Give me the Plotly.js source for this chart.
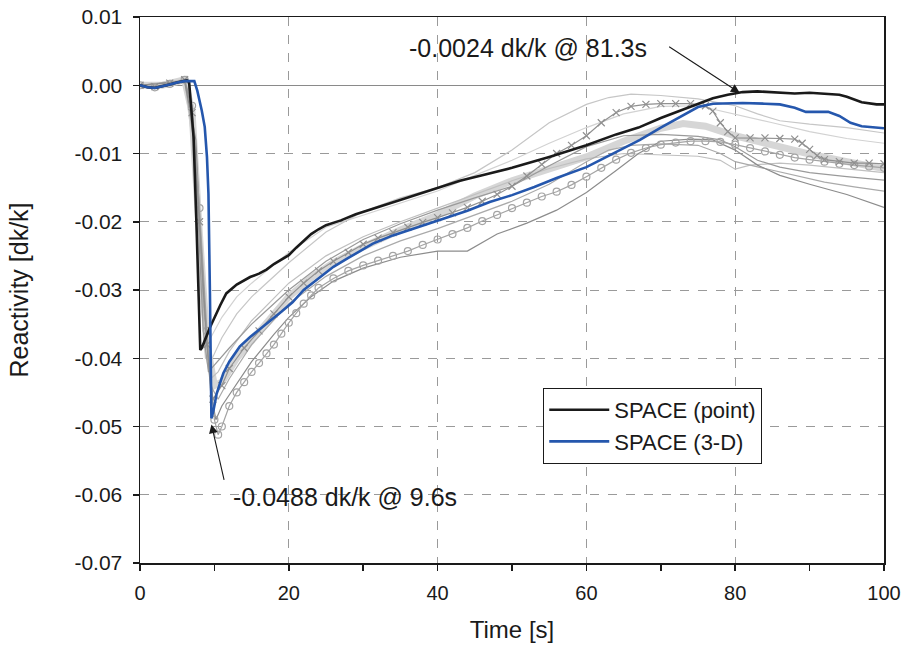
<!DOCTYPE html>
<html>
<head>
<meta charset="utf-8">
<script src="https://cdn.plot.ly/plotly-3.0.1.min.js"></script>
<style>html,body{margin:0;padding:0;background:#fff;}#chart{width:908px;height:655px;}</style>
</head>
<body>
<div id="chart"></div>
<script>
// ---- Data ----
const pointT = [0,1,2,3,4,5,6,6.3,6.6,7.2,7.6,8.1,8.3,9.4,10.8,11.6,13,14.8,16,17,18,19,20,21,22,23,24,25,27,29,31,33,35,37,40,43,46,50,55,60,64,67,70,73,75,77,79,81,83,85,87,88,90,91,93,94,95,97,99,100];
const pointY = [0,-0.0003,-0.0004,-0.0002,0.0001,0.0004,0.0006,0.0007,0.0005,-0.0076,-0.0207,-0.0388,-0.0385,-0.0355,-0.0322,-0.0305,-0.0292,-0.0281,-0.0276,-0.0270,-0.0262,-0.0255,-0.0249,-0.0238,-0.0228,-0.0218,-0.0211,-0.0205,-0.0198,-0.0189,-0.0182,-0.0175,-0.0168,-0.0160,-0.0150,-0.0140,-0.0132,-0.0121,-0.0105,-0.0088,-0.0072,-0.0062,-0.0048,-0.0036,-0.0028,-0.0019,-0.0014,-0.0010,-0.0009,-0.0010,-0.0012,-0.0012,-0.0011,-0.0012,-0.0014,-0.0014,-0.0017,-0.0025,-0.0028,-0.0028];

const threeDT = [0,1,2,3,4,5,6,7.3,7.7,8.3,8.7,9.0,9.2,9.4,9.5,9.6,9.9,10.3,10.8,11.2,12,12.5,13.4,14.8,16,17.5,19,20.5,22,24.2,26,28,30,31.3,34,37,40.3,44,47,50,53,56,60,63,65,67.2,70,72.6,75,77,79,81,84,86,88,89.5,91,92.5,94,95.5,97,100];
const threeDY = [0,-0.0003,-0.0004,-0.0002,0.0001,0.0004,0.0006,0.0006,-0.0008,-0.0037,-0.0061,-0.0105,-0.0159,-0.0305,-0.0400,-0.0488,-0.0475,-0.0452,-0.0435,-0.0422,-0.0405,-0.0397,-0.0383,-0.0369,-0.0358,-0.0345,-0.0332,-0.0318,-0.0300,-0.0281,-0.0266,-0.0253,-0.0241,-0.0232,-0.0220,-0.0209,-0.0198,-0.0184,-0.0171,-0.0161,-0.0149,-0.0136,-0.0120,-0.0103,-0.0092,-0.0080,-0.0062,-0.0046,-0.0032,-0.0027,-0.0026,-0.0026,-0.0027,-0.0028,-0.0033,-0.0039,-0.0039,-0.0039,-0.0045,-0.0055,-0.0060,-0.0063];

// other codes / cases (grey background curves)
const circT = [0,2,4,6,7,8,9,10,10.5,11,12,13,14,15,16,17,18,19,20,21,22,23,24,26,28,30,32,34,36,38,40,42,44,46,48,50,52,54,56,58,60,62,64,66,68,70,72,74,76,78,80,82,84,86,88,90,92,94,96,98,100];
const circY = [0,-0.0003,0.0002,0.0008,-0.003,-0.018,-0.036,-0.0490,-0.0512,-0.0500,-0.0470,-0.0450,-0.0435,-0.0420,-0.0407,-0.0393,-0.0380,-0.0364,-0.0348,-0.0334,-0.0320,-0.0308,-0.0297,-0.0283,-0.0272,-0.0264,-0.0257,-0.0250,-0.0243,-0.0234,-0.0226,-0.0218,-0.0209,-0.0199,-0.0190,-0.0180,-0.0172,-0.0163,-0.0156,-0.0146,-0.0134,-0.0121,-0.0109,-0.0099,-0.0092,-0.0087,-0.0084,-0.0082,-0.0082,-0.0083,-0.0087,-0.0092,-0.0097,-0.0102,-0.0106,-0.0109,-0.0112,-0.0115,-0.0117,-0.0119,-0.0121];

const crossT = [0,2,4,6,7,8,9,9.8,11,12,14,16,18,20,22,24,26,28,30,32,34,36,38,40,42,44,46,48,50,52,54,56,58,60,62,64,66,68,70,72,74,76,77,78,79,80,82,84,86,88,89,90,91,92,94,96,98,100];
const crossY = [0,-0.0002,0.0003,0.0008,-0.004,-0.020,-0.038,-0.046,-0.044,-0.0415,-0.0385,-0.036,-0.0335,-0.031,-0.0290,-0.0272,-0.0258,-0.0245,-0.0233,-0.0224,-0.0216,-0.0208,-0.0201,-0.0194,-0.0187,-0.0179,-0.0170,-0.0160,-0.0148,-0.0133,-0.0116,-0.0100,-0.0088,-0.0074,-0.0055,-0.0040,-0.0031,-0.0028,-0.0027,-0.0027,-0.0027,-0.0030,-0.0038,-0.0055,-0.0068,-0.0077,-0.0077,-0.0077,-0.0078,-0.0079,-0.0085,-0.0094,-0.0103,-0.0109,-0.0112,-0.0114,-0.0114,-0.0115];

const bandT = [0,3,6,7,8,9,10,11,13,15,17,20,23,26,30,35,40,45,50,55,60,65,70,73,76,80,85,90,95,100];
const bandY = [0,0,0.0008,-0.004,-0.022,-0.038,-0.044,-0.0435,-0.040,-0.0375,-0.035,-0.031,-0.0282,-0.0260,-0.0237,-0.0212,-0.0190,-0.0162,-0.0140,-0.0122,-0.0105,-0.0082,-0.0063,-0.0056,-0.0060,-0.0074,-0.0088,-0.0101,-0.0112,-0.0122];

const caseAT = [0,6,7,8,8.8,9.5,11,13,15,20,25,30,35,40,45,50,55,60,63,66,70,75,80,83,86,90,95,100];
const caseAY = [0,0.0008,-0.006,-0.028,-0.040,-0.0405,-0.037,-0.0335,-0.031,-0.026,-0.0215,-0.0185,-0.0165,-0.0150,-0.0128,-0.0095,-0.0055,-0.0028,-0.0018,-0.0013,-0.0015,-0.0020,-0.0030,-0.0042,-0.0052,-0.0057,-0.0062,-0.0070];

const caseBT = [0,6,7.5,8.5,9.5,10.2,11,12.5,15,18,20,23,26,30,35,40,44,48,52,56,60,64,67,70,74,77,80,83,86,90,95,100];
const caseBY = [0,0.0006,-0.008,-0.030,-0.045,-0.049,-0.047,-0.0445,-0.0405,-0.0365,-0.0340,-0.0310,-0.0287,-0.0268,-0.0252,-0.0243,-0.0243,-0.0218,-0.0202,-0.0183,-0.0157,-0.0125,-0.0100,-0.0082,-0.0079,-0.0080,-0.0095,-0.0117,-0.0132,-0.0145,-0.0160,-0.0179];

const caseCT = [0,6.5,7.5,8.5,9.5,10.5,12,15,20,25,30,35,40,45,50,55,60,65,70,75,78,80,82,86,90,95,100];
const caseCY = [0,0.0006,-0.010,-0.034,-0.043,-0.042,-0.039,-0.0345,-0.029,-0.025,-0.0222,-0.0200,-0.0180,-0.0160,-0.0140,-0.0122,-0.0108,-0.0100,-0.0102,-0.0104,-0.0110,-0.0123,-0.0117,-0.0114,-0.0117,-0.0122,-0.0128];

const caseDT = [0,6.5,7.5,8.5,9.2,10,12,15,20,25,30,35,40,45,50,55,60,65,70,75,78,80,83,86,90,95,100];
const caseDY = [0,0.0007,-0.012,-0.036,-0.042,-0.041,-0.0385,-0.0350,-0.0300,-0.0258,-0.0226,-0.0203,-0.0183,-0.0165,-0.0148,-0.0118,-0.0090,-0.0074,-0.0072,-0.0075,-0.0080,-0.0090,-0.0110,-0.0120,-0.0128,-0.0134,-0.0139];

const caseET = [0,6,7.5,8.5,9.5,10.5,12,15,20,25,30,35,40,45,50,55,60,63,66,70,75,78,80,84,88,92,96,100];
const caseEY = [0,0.0006,-0.010,-0.032,-0.044,-0.046,-0.043,-0.038,-0.032,-0.028,-0.0250,-0.0228,-0.0210,-0.0190,-0.0170,-0.0145,-0.0112,-0.0095,-0.0088,-0.0086,-0.0088,-0.0100,-0.0112,-0.0122,-0.0132,-0.0142,-0.0149,-0.0155];

const caseFT = [0,6,7,8,8.8,9.5,11,13,15,20,25,30,35,40,45,50,55,60,65,70,75,80,85,90,95,100];
const caseFY = [0,0.0006,-0.008,-0.030,-0.038,-0.037,-0.034,-0.031,-0.029,-0.0245,-0.0208,-0.0190,-0.0172,-0.0155,-0.0132,-0.0110,-0.0085,-0.0062,-0.0042,-0.0031,-0.0030,-0.0042,-0.0055,-0.0068,-0.0078,-0.0085];

const yTickVals = [0.01,0,-0.01,-0.02,-0.03,-0.04,-0.05,-0.06,-0.07];
const yTickText = ["0.01","0.00","-0.01","-0.02","-0.03","-0.04","-0.05","-0.06","-0.07"];
const seriesNames = ["SPACE (point)","SPACE (3-D)"];

// ---- Traces ----
function grey(x, y, color, width) {
  return {x:x, y:y, type:'scatter', mode:'lines', showlegend:false, hoverinfo:'skip',
          line:{color:color, width:width}};
}
const traces = [
  grey(bandT, bandY, '#d6d6d6', 7),
  grey(caseFT, caseFY, '#d2d2d2', 1.2),
  grey(caseAT, caseAY, '#c6c6c6', 1.2),
  grey(caseCT, caseCY, '#c0c0c0', 1.2),
  grey(caseET, caseEY, '#aaaaaa', 1.2),
  grey(caseDT, caseDY, '#9a9a9a', 1.2),
  grey(caseBT, caseBY, '#8c8c8c', 1.2),
  {x:circT, y:circY, type:'scatter', mode:'lines+markers', showlegend:false, hoverinfo:'skip',
   line:{color:'#a4a4a4', width:1.2},
   marker:{symbol:'circle-open', size:7, color:'#a4a4a4', line:{width:1.2}}},
  {x:crossT, y:crossY, type:'scatter', mode:'lines+markers', showlegend:false, hoverinfo:'skip',
   line:{color:'#909090', width:1.2},
   marker:{symbol:'x-thin-open', size:7, color:'#909090', line:{width:1.2, color:'#909090'}}},
  {x:pointT, y:pointY, type:'scatter', mode:'lines', name:seriesNames[0],
   line:{color:'#1a1a1a', width:2.6}},
  {x:threeDT, y:threeDY, type:'scatter', mode:'lines', name:seriesNames[1],
   line:{color:'#2557ad', width:2.6}}
];

const font = 'Liberation Sans, Arial, Helvetica, sans-serif';

const layout = {
  width:908, height:655,
  margin:{l:140, r:24, t:17, b:92},
  paper_bgcolor:'#ffffff', plot_bgcolor:'#ffffff',
  font:{family:font, color:'#1a1a1a'},
  showlegend:true,
  legend:{x:0.542, y:0.3205, xanchor:'left', yanchor:'top',
          bgcolor:'#ffffff', bordercolor:'#1a1a1a', borderwidth:1,
          itemwidth:60,
          font:{family:font, size:22, color:'#1a1a1a'}, tracegroupgap:0},
  xaxis:{range:[0,100], dtick:20, tick0:0,
         showline:true, linecolor:'#1a1a1a', linewidth:1.5, mirror:true,
         ticks:'outside', ticklen:6, tickwidth:1.5, tickcolor:'#1a1a1a',
         minor:{dtick:10, ticks:'outside', ticklen:6, tickwidth:1.5, tickcolor:'#1a1a1a', showgrid:false},
         showgrid:true, gridcolor:'#9a9a9a', gridwidth:1, griddash:'dash',
         zeroline:false, ticklabelstandoff:5,
         tickfont:{family:font, size:20, color:'#1a1a1a'},
         title:{text:'Time [s]', font:{family:font, size:24, color:'#1a1a1a'}, standoff:18}},
  yaxis:{range:[-0.07,0.01], tickvals:yTickVals, ticktext:yTickText,
         showline:true, linecolor:'#1a1a1a', linewidth:1.5, mirror:true,
         ticks:'outside', ticklen:6, tickwidth:1.5, tickcolor:'#1a1a1a',
         showgrid:true, gridcolor:'#9a9a9a', gridwidth:1, griddash:'dash',
         zeroline:true, zerolinecolor:'#8a8a8a', zerolinewidth:1.3,
         ticklabelstandoff:6,
         tickfont:{family:font, size:21, color:'#1a1a1a'},
         title:{text:'Reactivity [dk/k]', font:{family:font, size:25, color:'#1a1a1a'}, standoff:38}},
  annotations:[
    {x:52.15, y:0.0054, xref:'x', yref:'y', text:'-0.0024 dk/k @ 81.3s', showarrow:false,
     font:{family:font, size:25, color:'#1a1a1a'}},
    {x:80.6, y:-0.0011, xref:'x', yref:'y', text:'', showarrow:true,
     ax:-72, ay:-47, arrowhead:2, arrowsize:1.6, arrowwidth:1.1, arrowcolor:'#1a1a1a'},
    {x:27.55, y:-0.0603, xref:'x', yref:'y', text:'-0.0488 dk/k @ 9.6s', showarrow:false,
     font:{family:font, size:25, color:'#1a1a1a'}},
    {x:9.6, y:-0.0497, xref:'x', yref:'y', text:'', showarrow:true,
     ax:13, ay:57, arrowhead:2, arrowsize:1.6, arrowwidth:1.1, arrowcolor:'#1a1a1a'}
  ]
};

Plotly.newPlot('chart', traces, layout, {displayModeBar:false, staticPlot:true});
</script>
</body>
</html>
